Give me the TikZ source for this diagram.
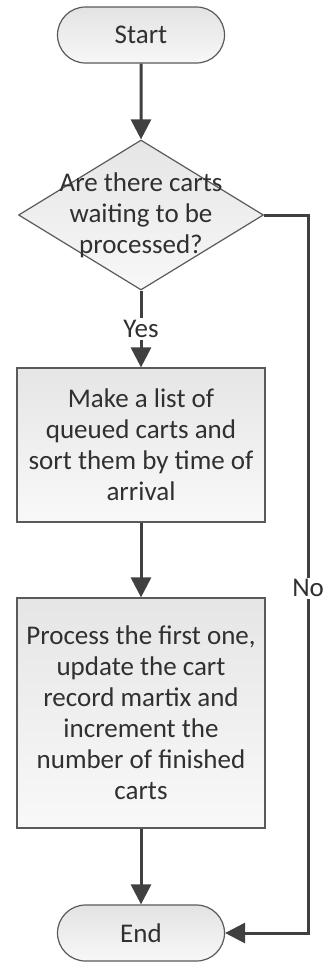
\documentclass[tikz,border=0pt]{standalone}
\usepackage{fontspec}
\setmainfont{Carlito}
\usetikzlibrary{shapes.geometric, shapes.misc, arrows.meta}
\definecolor{flowline}{HTML}{404040}
\definecolor{flowedge}{HTML}{5A5A5A}
\definecolor{flowtext}{HTML}{303030}

\begin{document}
\begin{tikzpicture}[font=\fontsize{27}{31}\selectfont, text=flowtext,
term/.style = {rounded rectangle, draw=flowedge, line width=1.2pt,
      top color=gray!22, bottom color=gray!6,
      minimum width=167pt, minimum height=56pt, inner sep=0pt},
block/.style = {rectangle, draw=flowedge, line width=1.2pt,
      top color=gray!20, bottom color=gray!5,
      minimum width=248pt, align=center, inner sep=0pt},
decision/.style = {diamond, draw=flowedge, line width=1.2pt,
      top color=gray!20, bottom color=gray!6,
      minimum width=245pt, minimum height=150pt, inner sep=0pt},
flow/.style = {draw=flowline, line width=3pt, -{Triangle[length=20pt, width=20pt]}},]
 \useasboundingbox (0,0) rectangle (323pt,-964pt);
 \node[term] (start) at (141pt,-35pt) {Start};
 \node[decision, below of=start, node distance=180pt] (ask) {};
 \node[align=center] (asktext) at (ask) {Are there carts\\waiting to be\\processed?};
 \node[block, below of=ask, node distance=230pt, minimum height=154pt] (list)
   {Make a list of\\queued carts and\\sort them by time of\\arrival};
 \node[block, below of=list, node distance=268pt, minimum height=230pt] (process)
   {Process the first one,\\update the cart\\record martix and\\increment the\\number of finished\\carts};
 \node[term, below of=process, node distance=220pt] (stop) {End};

 \draw[flow] (start) -- (ask);
 \draw[flow] (ask) -- node[fill=white, inner sep=2pt] (yes) {Yes} (list);
 \draw[flow] (list) -- (process);
 \draw[flow] (process) -- (stop);
 \draw[flow] (ask.east) -- ++(44pt,0) |- node[pos=0.26, fill=white, inner sep=2pt] (no) {No} (stop.east);
\end{tikzpicture}
\end{document}
